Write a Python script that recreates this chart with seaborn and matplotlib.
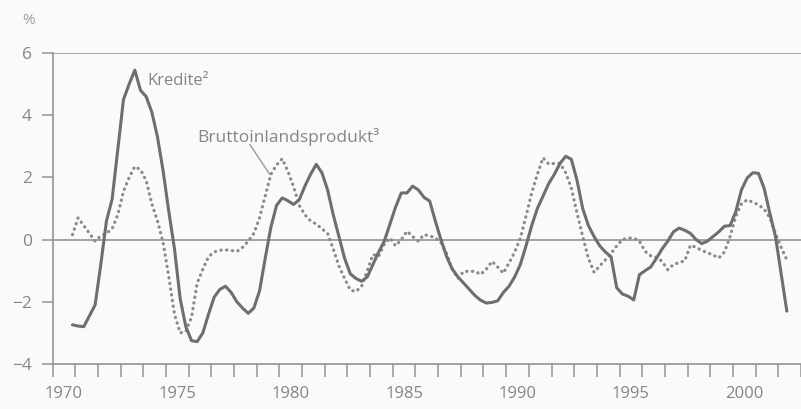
import numpy as np
import pandas as pd
import seaborn as sns
import matplotlib.pyplot as plt

# quarterly values, 1970 Q4 .. 2002 Q2 (deviation from trend, %)
start_year = 1970.75
kredite = [
    -2.74,
    -2.78, -2.80, -2.45, -2.10,   # 1971
    -0.80, 0.60, 1.30, 2.90,      # 1972
    4.50, 5.00, 5.45, 4.80,       # 1973
    4.60, 4.10, 3.30, 2.20,       # 1974
    0.90, -0.30, -1.90, -2.80,    # 1975
    -3.25, -3.28, -3.00, -2.40,   # 1976
    -1.85, -1.60, -1.50, -1.70,   # 1977
    -2.00, -2.20, -2.37, -2.20,   # 1978
    -1.65, -0.60, 0.40, 1.10,     # 1979
    1.34, 1.25, 1.13, 1.28,       # 1980
    1.72, 2.10, 2.42, 2.15,       # 1981
    1.60, 0.80, 0.10, -0.60,      # 1982
    -1.10, -1.25, -1.34, -1.20,   # 1983
    -0.80, -0.40, -0.05, 0.50,    # 1984
    1.05, 1.50, 1.50, 1.72,       # 1985
    1.60, 1.36, 1.24, 0.60,       # 1986
    0.00, -0.55, -0.95, -1.20,    # 1987
    -1.40, -1.60, -1.80, -1.95,   # 1988
    -2.04, -2.02, -1.97, -1.70,   # 1989
    -1.50, -1.20, -0.80, -0.20,   # 1990
    0.45, 1.00, 1.40, 1.80,       # 1991
    2.10, 2.45, 2.68, 2.58,       # 1992
    1.90, 1.00, 0.45, 0.10,       # 1993
    -0.20, -0.40, -0.55, -1.55,   # 1994
    -1.75, -1.82, -1.94, -1.13,   # 1995
    -1.00, -0.88, -0.60, -0.30,   # 1996
    -0.05, 0.25, 0.37, 0.30,      # 1997
    0.20, 0.00, -0.13, -0.05,     # 1998
    0.10, 0.25, 0.43, 0.45,       # 1999
    0.90, 1.60, 1.98, 2.15,       # 2000
    2.13, 1.65, 0.85, 0.10,       # 2001
    -1.10, -2.30,                 # 2002
]
bip = [
    0.16,
    0.70, 0.45, 0.20, -0.05,      # 1971
    0.12, 0.20, 0.35, 0.80,       # 1972
    1.55, 2.00, 2.35, 2.25,       # 1973
    1.90, 1.15, 0.60, -0.10,      # 1974
    -1.20, -2.40, -3.00, -2.95,   # 1975
    -2.50, -1.40, -0.95, -0.55,   # 1976
    -0.40, -0.34, -0.33, -0.35,   # 1977
    -0.38, -0.25, -0.05, 0.20,    # 1978
    0.70, 1.40, 2.10, 2.40,       # 1979
    2.60, 2.20, 1.70, 1.10,       # 1980
    0.80, 0.60, 0.50, 0.35,       # 1981
    0.20, -0.30, -0.85, -1.25,    # 1982
    -1.62, -1.67, -1.50, -1.00,   # 1983
    -0.48, -0.54, -0.15, 0.05,    # 1984
    -0.20, 0.00, 0.27, 0.10,      # 1985
    -0.05, 0.16, 0.12, 0.06,      # 1986
    -0.10, -0.45, -0.95, -1.25,   # 1987
    -1.02, -1.02, -1.02, -1.12,   # 1988
    -0.95, -0.70, -0.88, -1.08,   # 1989
    -0.75, -0.40, 0.05, 0.75,     # 1990
    1.50, 2.10, 2.63, 2.43,       # 1991
    2.45, 2.45, 2.15, 1.65,       # 1992
    0.85, 0.10, -0.60, -1.05,     # 1993
    -0.85, -0.65, -0.45, -0.20,   # 1994
    0.00, 0.05, 0.05, -0.05,      # 1995
    -0.38, -0.52, -0.57, -0.70,   # 1996
    -0.97, -0.80, -0.74, -0.68,   # 1997
    -0.18, -0.25, -0.35, -0.42,   # 1998
    -0.50, -0.59, -0.40, 0.10,    # 1999
    0.75, 1.15, 1.28, 1.20,       # 2000
    1.12, 0.98, 0.70, 0.20,       # 2001
    -0.25, -0.65,                 # 2002
]
year_labels = [1970, 1975, 1980, 1985, 1990, 1995, 2000]
y_ticks = [-4, -2, 0, 2, 4, 6]

t = start_year + 0.125 + np.arange(len(kredite)) * 0.25
df = pd.DataFrame({'t': t, 'Kredite': kredite, 'BIP': bip})

sns.set_style('white')
plt.rcParams['font.family'] = ['Open Sans', 'DejaVu Sans']

bg = '#f9fbfb'
axis_col = '#939393'
txt_col = '#858585'
line_col = '#6e6e6e'

fig = plt.figure(figsize=(8.01, 4.09), dpi=100, facecolor=bg)
ax = fig.add_axes([52.6 / 801, 1 - 364 / 409, 1 - 52.6 / 801, (364 - 53) / 409])
ax.set_facecolor(bg)

sns.lineplot(data=df, x='t', y='BIP', ax=ax, color='#8a8a8a', lw=2.3,
             linestyle=(0, (0.1, 1.7)), dash_capstyle='round')
sns.lineplot(data=df, x='t', y='Kredite', ax=ax, color=line_col, lw=2.2)

ax.set_xlim(1970, 2003)
ax.set_ylim(-4, 6)
ax.axhline(0, color=axis_col, lw=1.2, zorder=0)
ax.axhline(6, color=axis_col, lw=1.2, zorder=0)

ax.set_xticks(np.arange(1970, 2004))
ax.set_xticklabels([])
ax.set_xticks([y + 0.5 for y in year_labels], minor=True)
ax.set_xticklabels([str(y) for y in year_labels], minor=True)
ax.tick_params(axis='x', which='both', bottom=True)
ax.tick_params(axis='x', which='major', length=9, width=1.1, color=axis_col, direction='out')
ax.tick_params(axis='x', which='minor', length=0, pad=16, labelsize=12, labelcolor=txt_col)
ax.set_yticks(y_ticks)
ax.set_yticklabels(['\u2212' + str(-v) if v < 0 else str(v) for v in y_ticks])
ax.tick_params(axis='y', left=True, length=8, width=1.1, color=axis_col, pad=7,
               labelsize=12.5, labelcolor=txt_col)

for s in ['top', 'right']:
    ax.spines[s].set_visible(False)
for s in ['left', 'bottom']:
    ax.spines[s].set_color(axis_col)
    ax.spines[s].set_linewidth(1.2)

ax.set_xlabel('')
ax.set_ylabel('')

ax.text(1974.2, 5.1, 'Kredite\u00b2', color=txt_col, fontsize=12, va='center', ha='left')
ax.text(1976.4, 3.3, 'Bruttoinlandsprodukt\u00b3', color=txt_col, fontsize=12.5,
        va='center', ha='left')
ax.plot([1978.7, 1979.57], [3.06, 2.10], color='#999999', lw=1)

fig.text(22 / 801, 1 - 21 / 409, '%', color='#a0a0a0', fontsize=11, va='center', ha='left')

fig.savefig('out.png', dpi=100, facecolor=bg)
